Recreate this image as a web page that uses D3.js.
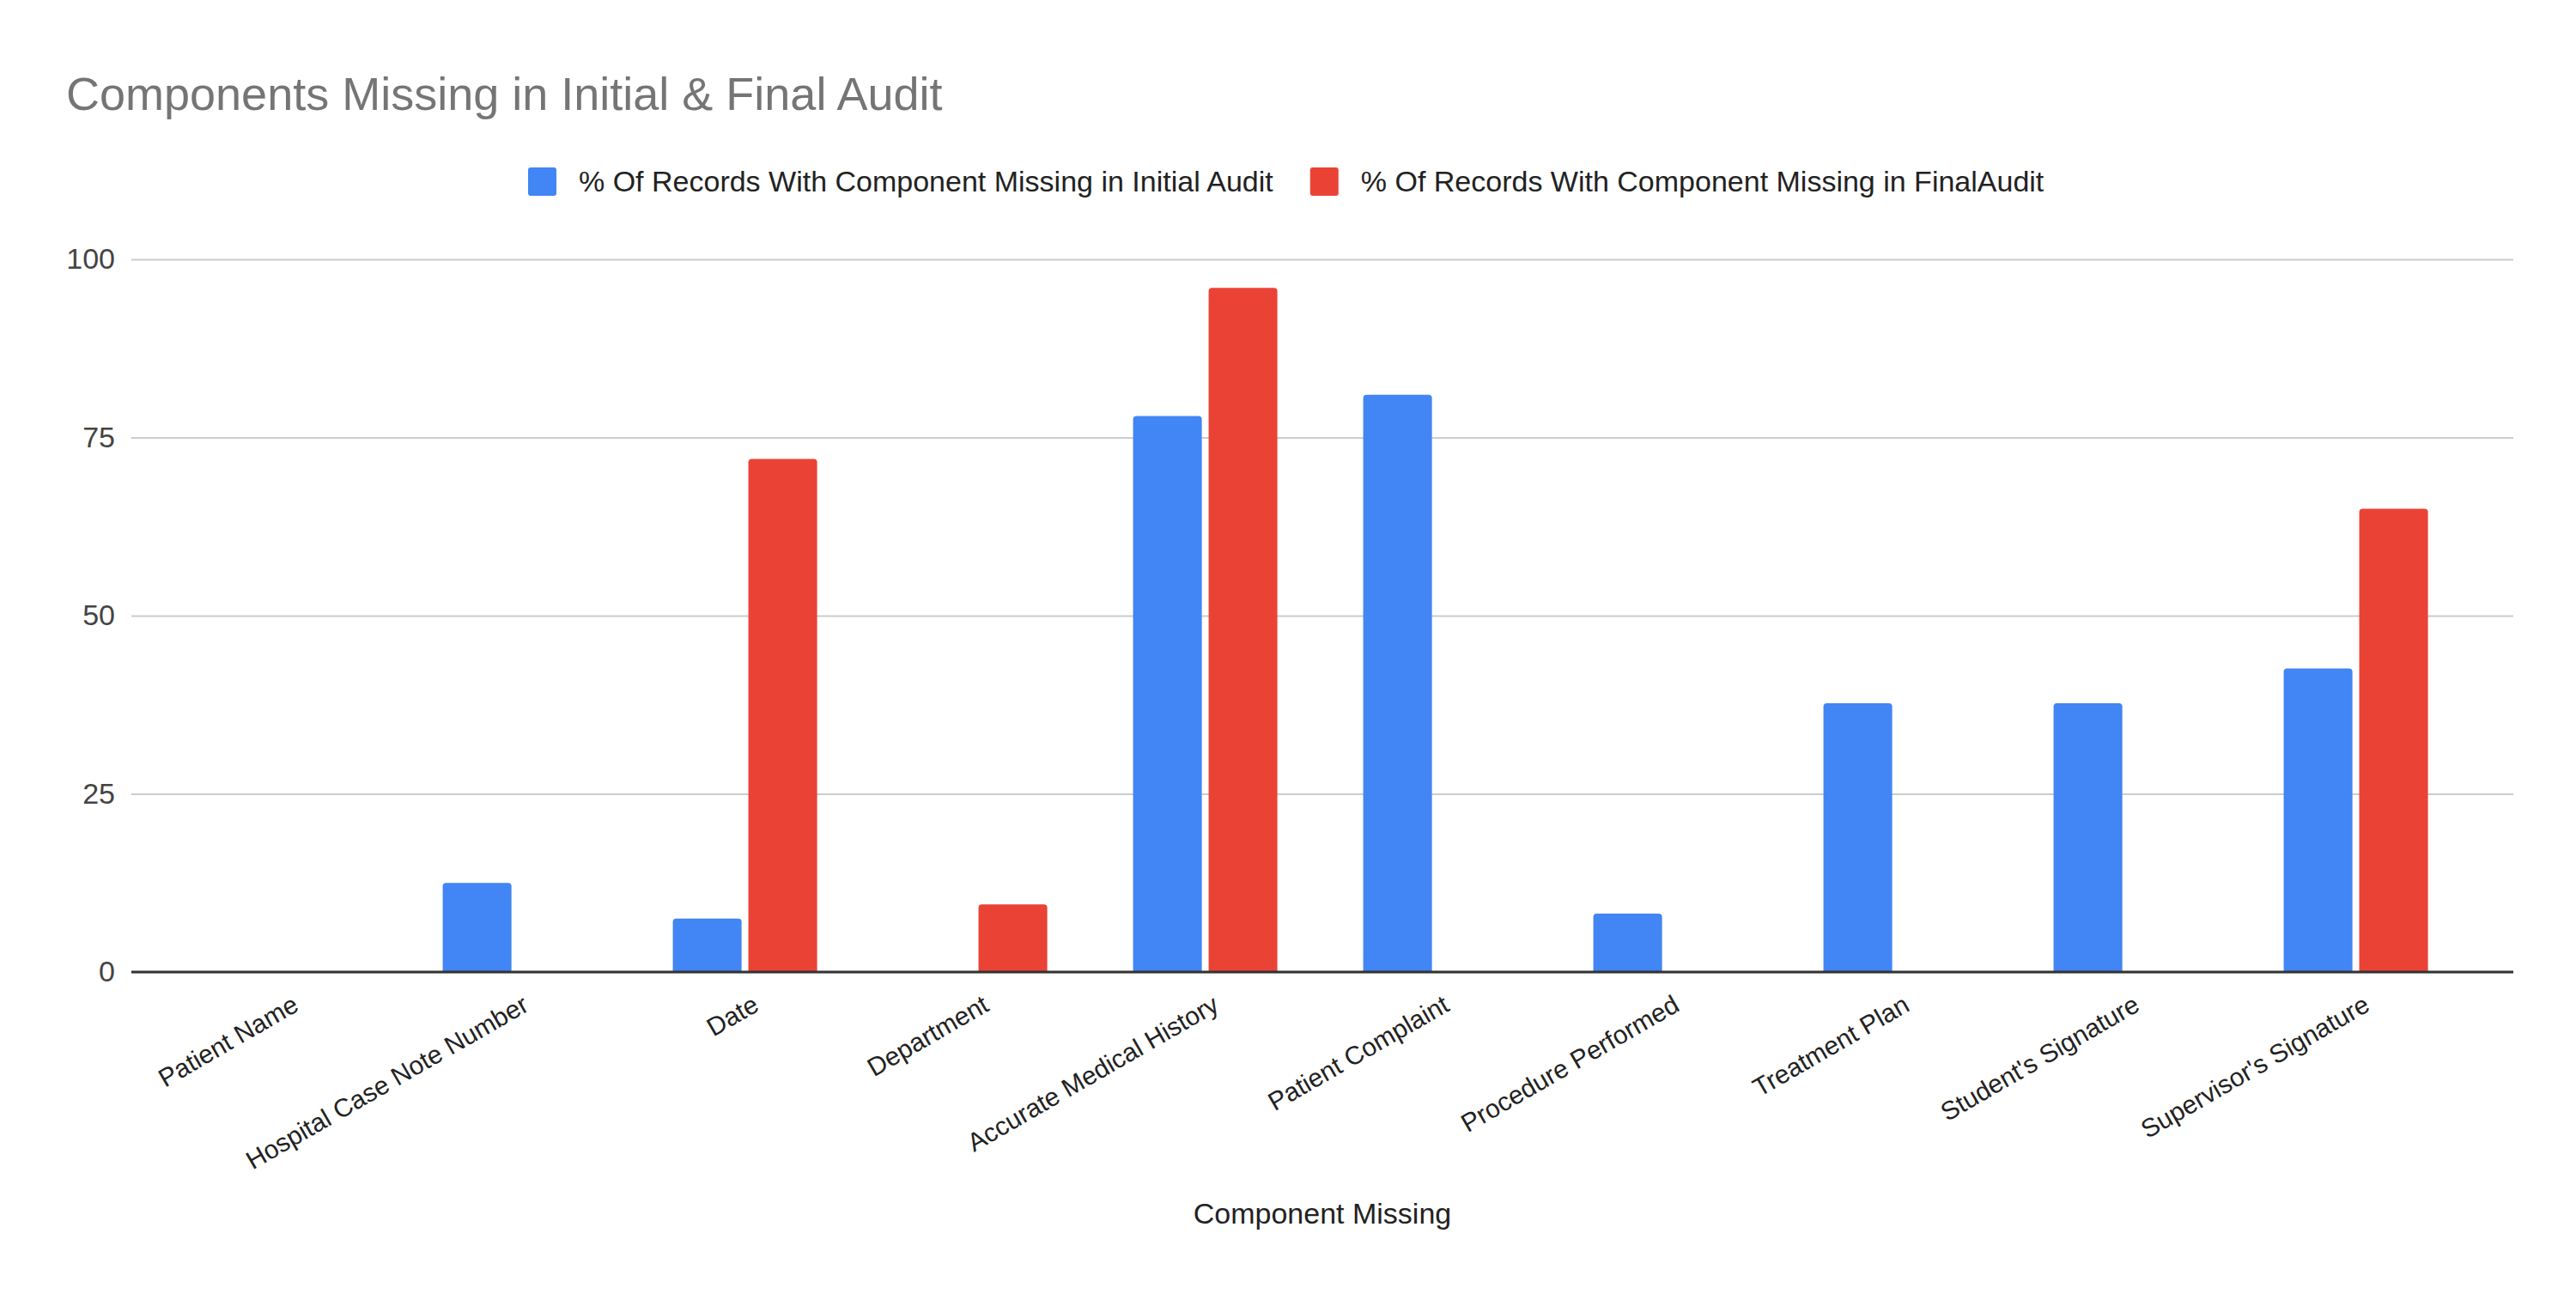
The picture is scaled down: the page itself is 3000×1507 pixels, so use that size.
<!DOCTYPE html>
<html>
<head>
<meta charset="utf-8">
<script src="https://cdn.jsdelivr.net/npm/d3@7"></script>
<style>
  body { margin: 0; background: #ffffff; }
</style>
</head>
<body>
<div id="chart"></div>
<script>
// data
const categories = [
  "Patient Name", "Hospital Case Note Number", "Date", "Department",
  "Accurate Medical History", "Patient Complaint", "Procedure Performed",
  "Treatment Plan", "Student's Signature", "Supervisor's Signature"
];
const initialAudit = [0, 12.5, 7.5, 0, 78, 81, 8.2, 37.7, 37.7, 42.6];
const finalAudit = [0, 0, 72, 9.5, 96, 0, 0, 0, 0, 65];
const seriesNames = [
  "% Of Records With Component Missing in Initial Audit",
  "% Of Records With Component Missing in FinalAudit"
];
const seriesColors = ["#4285f4", "#ea4335"];
const yTicks = [0, 25, 50, 75, 100];

const width = 3000;
const height = 1507;
const plot = {l: 153, r: 2927, t: 302, b: 1132};

const svg = d3.select("#chart")
  .append("svg")
  .attr("width", width)
  .attr("height", height)
  .attr("viewBox", [0, 0, width, height]);

svg.append("rect")
  .attr("width", width)
  .attr("height", height)
  .attr("fill", "white");

// title
svg.append("text")
  .attr("x", 77)
  .attr("y", 128)
  .attr("font-family", "'Liberation Sans', Arial, sans-serif")
  .attr("font-size", "54px")
  .attr("fill", "#757575")
  .text("Components Missing in Initial & Final Audit");

// legend
const legend = svg.append("g").attr("class", "legend");
let lx = 615;
seriesNames.forEach((name, i) => {
  legend.append("rect")
    .attr("x", lx)
    .attr("y", 195)
    .attr("width", 33)
    .attr("height", 33)
    .attr("rx", 3)
    .attr("fill", seriesColors[i]);
  const t = legend.append("text")
    .attr("x", lx + 59)
    .attr("y", 223)
    .attr("font-family", "'Liberation Sans', Arial, sans-serif")
    .attr("font-size", "34px")
    .attr("fill", "#222222")
    .text(name);
  lx = lx + 59 + t.node().getComputedTextLength() + 43;
});

// scales
const x0 = d3.scaleBand()
  .domain(categories)
  .range([197.6, 2877.6])
  .paddingInner(0.373)
  .paddingOuter(0.1865);

const x1 = d3.scaleBand()
  .domain([0, 1])
  .range([0, x0.bandwidth()])
  .paddingInner(0.09);

const y = d3.scaleLinear()
  .domain([0, 100])
  .range([plot.b, plot.t]);

// gridlines + y labels
const yAxis = svg.append("g")
  .attr("transform", "translate(" + plot.l + ",0)")
  .call(d3.axisLeft(y)
    .tickValues(yTicks)
    .tickSize(-(plot.r - plot.l))
    .tickPadding(19));
yAxis.select(".domain").remove();
yAxis.selectAll(".tick line")
  .attr("stroke", "#cccccc")
  .attr("stroke-width", 2);
yAxis.selectAll(".tick text")
  .attr("font-family", "'Liberation Sans', Arial, sans-serif")
  .attr("font-size", "34px")
  .attr("fill", "#444444");

// bars
const rows = categories.map((c, i) => ({cat: c, vals: [initialAudit[i], finalAudit[i]]}));

function barPath(x, yTop, w, yBase, r) {
  const h = yBase - yTop;
  r = Math.min(r, h / 2, w / 2);
  return "M" + x + "," + yBase +
    "V" + (yTop + r) +
    "Q" + x + "," + yTop + " " + (x + r) + "," + yTop +
    "H" + (x + w - r) +
    "Q" + (x + w) + "," + yTop + " " + (x + w) + "," + (yTop + r) +
    "V" + yBase + "Z";
}

const groups = svg.append("g")
  .selectAll("g")
  .data(rows)
  .join("g")
  .attr("transform", d => "translate(" + x0(d.cat) + ",0)");

groups.selectAll("path")
  .data(d => d.vals.map((v, i) => ({v: v, i: i})).filter(e => e.v > 0))
  .join("path")
  .attr("d", e => barPath(x1(e.i), y(e.v), x1.bandwidth(), y(0), 4))
  .attr("fill", e => seriesColors[e.i]);

// baseline
svg.append("line")
  .attr("x1", plot.l)
  .attr("x2", plot.r)
  .attr("y1", y(0))
  .attr("y2", y(0))
  .attr("stroke", "#333333")
  .attr("stroke-width", 3);

// x labels
const xAxis = svg.append("g")
  .attr("transform", "translate(0," + y(0) + ")")
  .call(d3.axisBottom(x0).tickSize(0));
xAxis.select(".domain").remove();
xAxis.selectAll(".tick text")
  .attr("font-family", "'Liberation Sans', Arial, sans-serif")
  .attr("font-size", "30px")
  .attr("fill", "#222222")
  .attr("text-anchor", "end")
  .attr("dy", 0)
  .attr("y", 0)
  .attr("transform", "translate(18,44) rotate(-30)");

// x axis title
svg.append("text")
  .attr("x", (plot.l + plot.r) / 2)
  .attr("y", 1425)
  .attr("text-anchor", "middle")
  .attr("font-family", "'Liberation Sans', Arial, sans-serif")
  .attr("font-size", "34px")
  .attr("fill", "#222222")
  .text("Component Missing");
</script>
</body>
</html>
